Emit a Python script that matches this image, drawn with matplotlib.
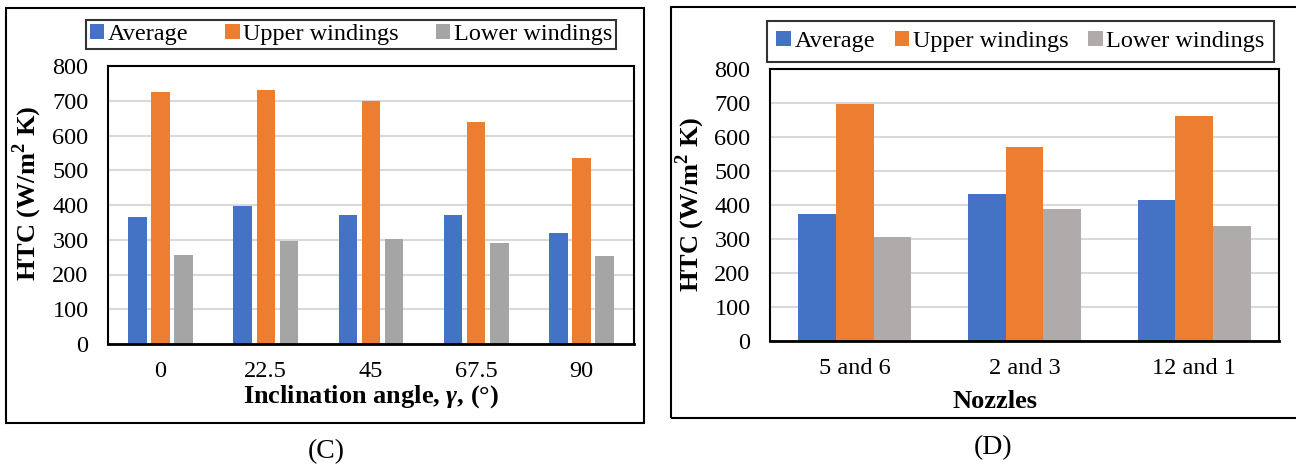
import numpy as np
import matplotlib
matplotlib.use('Agg')
import matplotlib.pyplot as plt
from matplotlib.patches import Rectangle

plt.rcParams['font.family'] = ['Liberation Serif', 'DejaVu Serif']
plt.rcParams['mathtext.fontset'] = 'custom'
plt.rcParams['mathtext.rm'] = 'Liberation Serif'
plt.rcParams['mathtext.bf'] = 'Liberation Serif:bold'
plt.rcParams['mathtext.bfit'] = 'Liberation Serif:bold:italic'

#data (C)
angles = ['0', '22.5', '45', '67.5', '90']
avg_c = [366, 398, 371, 371, 319]
upper_c = [724, 730, 698, 638, 534]
lower_c = [255, 296, 303, 291, 252]

#data (D)
nozzles = ['5 and 6', '2 and 3', '12 and 1']
avg_d = [373, 431, 415]
upper_d = [698, 572, 663]
lower_d = [305, 387, 338]

series_names = ['Average', 'Upper windings', 'Lower windings']
c_blue = '#4472C4'
c_orange = '#ED7D31'
W, H = 1296, 466
fs = 17.5

fig = plt.figure(figsize=(W/100, H/100), dpi=100)

def px_rect(x0, y0, x1, y1):
    return [x0/W, 1-y1/H, (x1-x0)/W, (y1-y0)/H]

def style_axes(ax):
    ax.set_ylim(0, 800)
    ax.set_yticks(np.arange(0, 801, 100))
    for s in ax.spines.values():
        s.set_linewidth(1.5)
        s.set_color('black')
    ax.spines['bottom'].set_linewidth(2)
    ax.tick_params(length=0, labelsize=fs)
    ax.tick_params(axis='y', pad=14)
    ax.tick_params(axis='x', pad=12)
    ax.yaxis.grid(True, color='#D9D9D9', lw=1.5)
    ax.set_axisbelow(True)

#outer frames
fig.patches.append(Rectangle((6/W, 1-423/H), (644-6)/W, (423-8)/H, transform=fig.transFigure,
                             fill=False, ec='black', lw=1.5))
fig.patches.append(Rectangle((671/W, 1-418/H), (1300-671)/W, (418-7)/H, transform=fig.transFigure,
                             fill=False, ec='black', lw=1.5))

#panel C
ax1 = fig.add_axes(px_rect(108, 66, 634, 344))
x = np.arange(len(angles))
w1 = 0.176
b1 = ax1.bar(x-0.22, avg_c, w1, color=c_blue, label=series_names[0])
b2 = ax1.bar(x, upper_c, w1, color=c_orange, label=series_names[1])
b3 = ax1.bar(x+0.22, lower_c, w1, color='#A5A5A5', label=series_names[2])
ax1.set_xlim(-0.5, len(angles)-0.5)
ax1.set_xticks(x)
ax1.set_xticklabels(angles)
style_axes(ax1)
fig.text(371/W, 1-397/H, r'Inclination angle, $\mathbfit{\gamma}$, (°)', ha='center', va='center',
         fontsize=19, fontweight='bold')
fig.text(27/W, 1-193/H, r'HTC (W/m$^\mathbf{2}$ K)', rotation=90, ha='center', va='center',
         fontsize=19, fontweight='bold')
leg1 = fig.legend(handles=[b1, b2, b3], loc='center', bbox_to_anchor=(351/W, 1-34.5/H), ncol=3,
                  fontsize=fs, frameon=True, fancybox=False, edgecolor='black',
                  handlelength=0.6, handleheight=0.6, handletextpad=0.15, columnspacing=1.5,
                  borderpad=0.15, borderaxespad=0)
leg1.get_frame().set_linewidth(1.5)
fig.text(326/W, 1-452/H, '(C)', ha='center', va='center', fontsize=20)

#panel D
ax2 = fig.add_axes(px_rect(770, 69, 1279, 341))
x = np.arange(len(nozzles))
w2 = 0.222
d1 = ax2.bar(x-w2, avg_d, w2, color=c_blue, label=series_names[0])
d2 = ax2.bar(x, upper_d, w2, color=c_orange, label=series_names[1])
d3 = ax2.bar(x+w2, lower_d, w2, color='#AFABAB', label=series_names[2])
ax2.set_xlim(-0.5, len(nozzles)-0.5)
ax2.set_xticks(x)
ax2.set_xticklabels(nozzles)
style_axes(ax2)
fig.text(995/W, 1-402/H, 'Nozzles', ha='center', va='center', fontsize=19, fontweight='bold')
fig.text(690/W, 1-204/H, r'HTC (W/m$^\mathbf{2}$ K)', rotation=90, ha='center', va='center',
         fontsize=19, fontweight='bold')
leg2 = fig.legend(handles=[d1, d2, d3], loc='center', bbox_to_anchor=(1020.5/W, 1-41.5/H), ncol=3,
                  fontsize=fs, frameon=True, fancybox=False, edgecolor='black',
                  handlelength=0.6, handleheight=0.6, handletextpad=0.15, columnspacing=0.8,
                  borderpad=0.4, borderaxespad=0)
leg2.get_frame().set_linewidth(1.5)
fig.text(993/W, 1-448/H, '(D)', ha='center', va='center', fontsize=20)

fig.savefig('out.png', dpi=100)
